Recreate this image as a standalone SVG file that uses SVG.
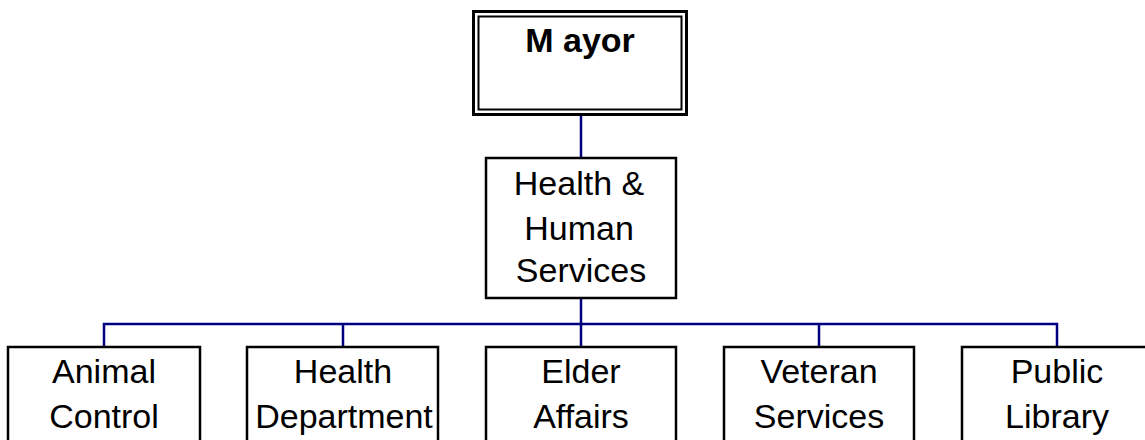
<svg xmlns="http://www.w3.org/2000/svg" width="1145" height="440" viewBox="0 0 1145 440">
<style>
.box{fill:#fff;stroke:#000;stroke-width:2.5}
.t{font-family:"Liberation Sans",Arial,sans-serif;font-size:34px;fill:#000;text-anchor:middle}
.b{font-weight:bold;font-size:34px}
.c{fill:none;stroke:#000080;stroke-width:2.5}
</style>
<rect width="1145" height="440" fill="#fff"/>
<g id="connectors">
<path class="c" d="M581,115V158"/>
<path class="c" d="M581,298V324"/>
<path class="c" d="M104,347V324H1057V347"/>
<path class="c" d="M343,324V347M581,324V347M819,324V347"/>
</g>
<g id="mayor">
<rect x="473.5" y="11.5" width="213" height="103" fill="#fff" stroke="#000" stroke-width="3"/>
<rect x="478.5" y="16.5" width="203" height="93" fill="none" stroke="#000" stroke-width="2"/>
<text class="t b" x="580" y="52">M ayor</text>
</g>
<g id="hhs">
<rect class="box" x="486" y="158" width="190" height="140"/>
<text class="t" x="579" y="195">Health &amp;</text>
<text class="t" x="579" y="240">Human</text>
<text class="t" x="581" y="282">Services</text>
</g>
<g id="animal-control">
<rect class="box" x="8" y="347" width="192" height="110"/>
<text class="t" x="104" y="383">Animal</text>
<text class="t" x="104" y="428">Control</text>
</g>
<g id="health-department">
<rect class="box" x="247" y="347" width="191" height="110"/>
<text class="t" x="343" y="383">Health</text>
<text class="t" x="344" y="428">Department</text>
</g>
<g id="elder-affairs">
<rect class="box" x="486" y="347" width="190" height="110"/>
<text class="t" x="581" y="383">Elder</text>
<text class="t" x="581" y="428">Affairs</text>
</g>
<g id="veteran-services">
<rect class="box" x="724" y="347" width="190" height="110"/>
<text class="t" x="819" y="383">Veteran</text>
<text class="t" x="819" y="428">Services</text>
</g>
<g id="public-library">
<rect class="box" x="962" y="347" width="191" height="110"/>
<text class="t" x="1057" y="383">Public</text>
<text class="t" x="1057" y="428">Library</text>
</g>
</svg>
